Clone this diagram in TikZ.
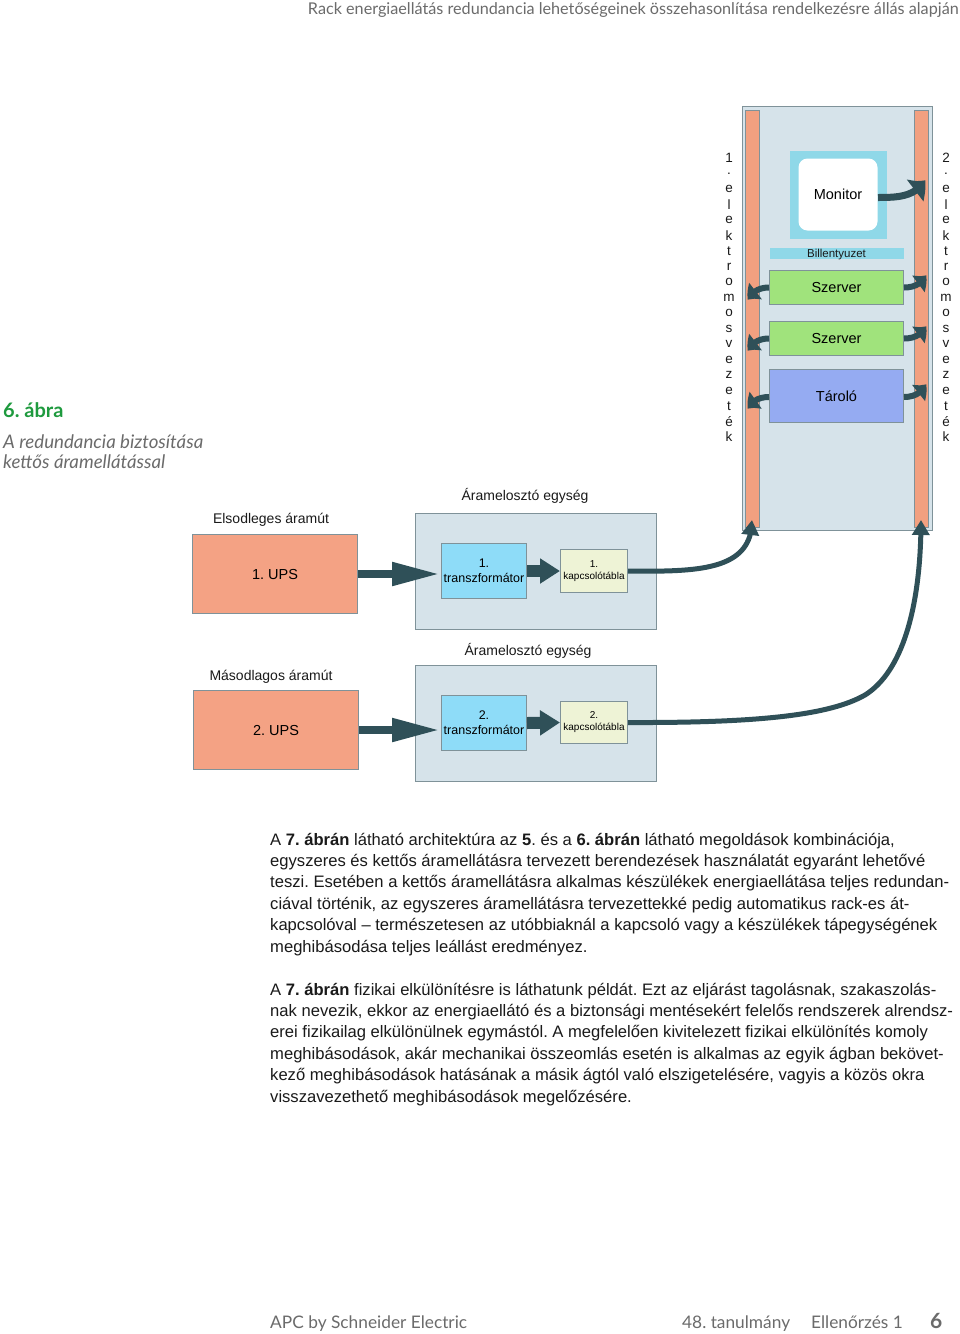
\documentclass[tikz,border=0pt]{standalone}
\usepackage{fontspec}
\setmainfont{Liberation Sans}
\newfontfamily\lato{Lato}
\usetikzlibrary{arrows.meta,bending}
\definecolor{dark}{HTML}{2F5058}
\definecolor{rackbg}{HTML}{D6E3EA}
\definecolor{bgray}{HTML}{7F9299}
\definecolor{strip}{HTML}{F2A080}
\definecolor{ups}{HTML}{F4A284}
\definecolor{cyanm}{HTML}{8FD8E8}
\definecolor{szgreen}{HTML}{A0E37C}
\definecolor{tarblue}{HTML}{95ABF2}
\definecolor{trblue}{HTML}{8EDCF8}
\definecolor{swyel}{HTML}{EEF3D6}
\definecolor{hgreen}{HTML}{1E9A3E}
\definecolor{tgray}{HTML}{6B6B6B}
\definecolor{btext}{HTML}{1A1A1A}
\frenchspacing
\begin{document}
\begin{tikzpicture}[x=1pt,y=-1pt,
  box/.style={draw=bgray, line width=1pt, inner sep=0pt, anchor=north west, align=center},
  lbl/.style={inner sep=0pt, font=\fontsize{14}{16}\selectfont, text=btext},
  para/.style={anchor=base west, inner sep=0pt, font=\fontsize{16.6}{18}\selectfont, text=btext},
  rarrow/.style={draw=dark, line width=6pt, -{Triangle[width=20pt,length=12pt,bend]}},
  bigarr/.style={draw=dark, line width=8pt, -{Triangle[width=22pt,length=48pt]}},
  smallarr/.style={draw=dark, line width=12pt, -{Triangle[width=24pt,length=20pt]}},
  feed/.style={draw=dark, line width=5pt, -{Triangle[width=17pt,length=15pt]}},
  vl/.style={inner sep=0pt, font=\fontsize{13.5}{14}\selectfont, text=btext}
]
\useasboundingbox (0,0) rectangle (960,1334);
\fill[white] (0,0) rectangle (960,1334);

% header
\node[anchor=base east, inner sep=0pt, text=tgray, font=\lato\fontsize{16.2}{17}\selectfont] (hdr) at (959,14) {Rack energiaellátás redundancia lehetőségeinek összehasonlítása rendelkezésre állás alapján};

% figure caption
\node[anchor=base west, inner sep=0pt, text=hgreen, font=\lato\bfseries\fontsize{20}{22}\selectfont] (fig) at (3,417) {6. ábra};
\node[anchor=base west, inner sep=0pt, text=tgray, font=\lato\itshape\fontsize{18.7}{20}\selectfont] (cap1) at (3,448) {A redundancia biztosítása};
\node[anchor=base west, inner sep=0pt, text=tgray, font=\lato\itshape\fontsize{18.7}{20}\selectfont] (cap2) at (3,468) {kettős áramellátással};

% rack
\node[box, fill=rackbg, minimum width=190, minimum height=424] (rack) at (742,106) {};
\node[box, fill=strip, minimum width=14, minimum height=417] (strip1) at (745,110) {};
\node[box, fill=strip, minimum width=14, minimum height=417] (strip2) at (914,110) {};
\node[box, draw=none, fill=cyanm, minimum width=97, minimum height=88] (monf) at (789,150) {};
\node[box, draw=none, fill=white, rounded corners=9pt, minimum width=79, minimum height=72, font=\fontsize{14.5}{16}\selectfont] (mon) at (798,158) {Monitor};
\node[box, draw=none, fill=cyanm, minimum width=134, minimum height=11] (bill) at (769,247) {};
\node[inner sep=0pt, font=\fontsize{11.5}{12}\selectfont, text=btext] (billt) at ([yshift=-2pt]bill.center) {Billentyuzet};
\node[box, fill=szgreen, minimum width=134, minimum height=34, font=\fontsize{14.5}{16}\selectfont] (s1) at (769,270) {Szerver};
\node[box, fill=szgreen, minimum width=134, minimum height=34, font=\fontsize{14.5}{16}\selectfont] (s2) at (769,321) {Szerver};
\node[box, fill=tarblue, minimum width=134, minimum height=53, font=\fontsize{14.5}{16}\selectfont] (tar) at (769,369) {Tároló};

% vertical labels
\foreach \c [count=\i] in {1,.,e,l,e,k,t,r,o,m,o,s,v,e,z,e,t,é,k}
  \node[vl] (L\i) at (729,{158+15.5*(\i-1)}) {\c};
\foreach \c [count=\i] in {2,.,e,l,e,k,t,r,o,m,o,s,v,e,z,e,t,é,k}
  \node[vl] (R\i) at (946,{158+15.5*(\i-1)}) {\c};

% rack arrows
\coordinate (mr) at (925,180);
\coordinate (s1r) at (926,275);
\coordinate (s2r) at (926,326);
\coordinate (tr) at (926,384);
\coordinate (s1l) at (748,300);
\coordinate (s2l) at (748,351);
\coordinate (tl) at (748,409);
\draw[draw=dark, line width=7pt, -{Triangle[width=26pt,length=15pt,bend]}] ([yshift=-3pt]mon.east) to[out=0,in=-120] (mr);
\draw[rarrow] (s1.east) to[out=0,in=-115] (s1r);
\draw[rarrow] (s2.east) to[out=0,in=-115] (s2r);
\draw[rarrow] ([yshift=-1pt]tar.east) to[out=0,in=-115] (tr);
\draw[rarrow] (s1.west) to[out=180,in=65] (s1l);
\draw[rarrow] (s2.west) to[out=180,in=65] (s2l);
\draw[rarrow] ([yshift=-1pt]tar.west) to[out=180,in=65] (tl);

% first power path
\node[lbl] (au1) at (525,496) {Áramelosztó egység};
\node[lbl] (el) at (271,520) {Elsodleges áramút};
\node[box, fill=rackbg, minimum width=241, minimum height=116] (dist1) at (415,513) {};
\node[box, fill=ups, minimum width=165, minimum height=79, font=\fontsize{14.5}{16}\selectfont] (ups1) at (192,534) {1. UPS};
\draw[bigarr] (ups1.east) -- (ups1.east -| 440,0);
\node[box, fill=trblue, minimum width=85, minimum height=55, font=\fontsize{12.5}{15}\selectfont] (tr1) at (441,543) {1.\\transzformátor};
\node[box, fill=swyel, minimum width=67, minimum height=43, font=\fontsize{10}{12}\selectfont] (sw1) at (560,549) {1.\\kapcsolótábla};
\draw[smallarr] (tr1.east) -- (sw1.west);

% second power path
\node[lbl] (au2) at (528,651) {Áramelosztó egység};
\node[lbl] (ma) at (271,677) {Másodlagos áramút};
\node[box, fill=rackbg, minimum width=241, minimum height=116] (dist2) at (415,665) {};
\node[box, fill=ups, minimum width=165, minimum height=79, font=\fontsize{14.5}{16}\selectfont] (ups2) at (193,690) {2. UPS};
\draw[bigarr] (ups2.east) -- (ups2.east -| 440,0);
\node[box, fill=trblue, minimum width=85, minimum height=55, font=\fontsize{12.5}{15}\selectfont] (tr2) at (441,695) {2.\\transzformátor};
\node[box, fill=swyel, minimum width=67, minimum height=42, font=\fontsize{10}{12}\selectfont] (sw2) at (560,701) {2.\\kapcsolótábla};
\draw[smallarr] (tr2.east) -- (sw2.west);

% feeds to rack strips
\coordinate (tip1) at (752,520);
\coordinate (tip2) at (921,520);
\coordinate (mid2) at (865,695);
\draw[feed] (sw1.east) .. controls (700,572) and (752,570) .. (tip1);
\draw[feed] (sw2.east) .. controls (760,723) and (830,715) .. (mid2) .. controls (905,670) and (921,600) .. (tip2);

% body text
\node[para] (p1) at (270,845) {A \textbf{7. ábrán} látható architektúra az \textbf{5}. és a \textbf{6. ábrán} látható megoldások kombinációja,};
\node[para] (p2) at (270,866.4) {egyszeres és kettős áramellátásra tervezett berendezések használatát egyaránt lehetővé};
\node[para] (p3) at (270,887.8) {teszi. Esetében a kettős áramellátásra alkalmas készülékek energiaellátása teljes redundan-};
\node[para] (p4) at (270,909.2) {ciával történik, az egyszeres áramellátásra tervezettekké pedig automatikus rack-es át-};
\node[para] (p5) at (270,930.6) {kapcsolóval – természetesen az utóbbiaknál a kapcsoló vagy a készülékek tápegységének};
\node[para] (p6) at (270,952) {meghibásodása teljes leállást eredményez.};

\node[para] (q1) at (270,995) {A \textbf{7. ábrán} fizikai elkülönítésre is láthatunk példát. Ezt az eljárást tagolásnak, szakaszolás-};
\node[para] (q2) at (270,1016.4) {nak nevezik, ekkor az energiaellátó és a biztonsági mentésekért felelős rendszerek alrendsz-};
\node[para] (q3) at (270,1037.8) {erei fizikailag elkülönülnek egymástól. A megfelelően kivitelezett fizikai elkülönítés komoly};
\node[para] (q4) at (270,1059.2) {meghibásodások, akár mechanikai összeomlás esetén is alkalmas az egyik ágban bekövet-};
\node[para] (q5) at (270,1080.6) {kező meghibásodások hatásának a másik ágtól való elszigetelésére, vagyis a közös okra};
\node[para] (q6) at (270,1102) {visszavezethető meghibásodások megelőzésére.};

% footer
\node[anchor=base west, inner sep=0pt, text=tgray, font=\lato\fontsize{17.3}{18}\selectfont] (f1) at (270,1328) {APC by Schneider Electric};
\node[anchor=base west, inner sep=0pt, text=tgray, font=\lato\fontsize{17.3}{18}\selectfont] (f2) at (682,1328) {48. tanulmány};
\node[anchor=base west, inner sep=0pt, text=tgray, font=\lato\fontsize{17.3}{18}\selectfont] (f3) at (811,1328) {Ellenőrzés 1};
\node[anchor=base west, inner sep=0pt, text=tgray, font=\lato\bfseries\fontsize{21}{22}\selectfont] (f4) at (930,1328) {6};
\end{tikzpicture}
\end{document}
